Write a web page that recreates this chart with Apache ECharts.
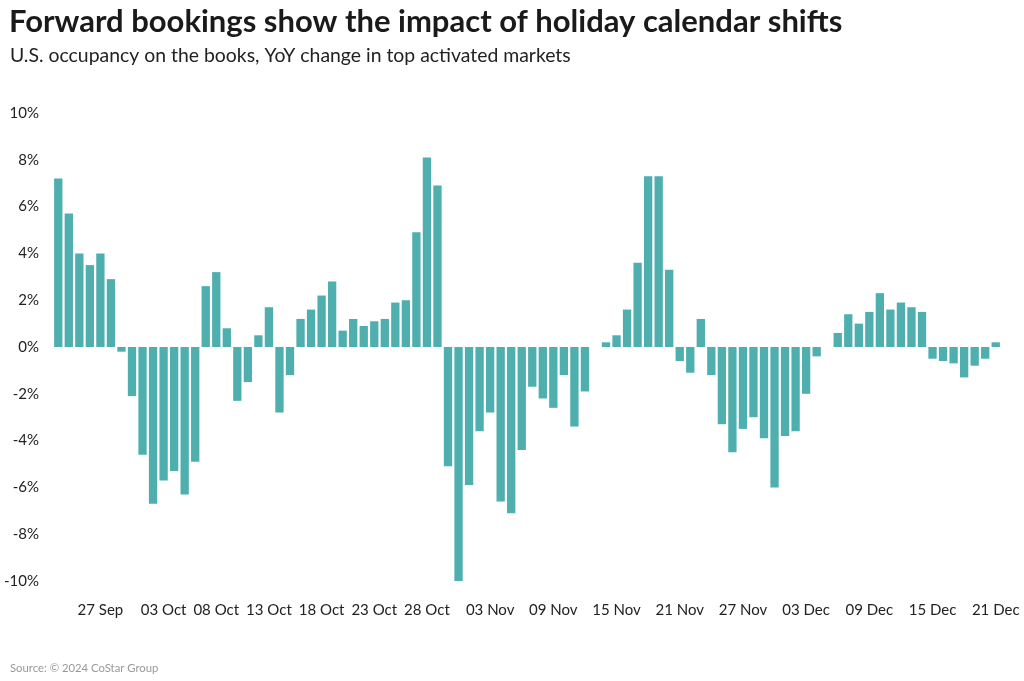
<!DOCTYPE html>
<html>
<head>
<meta charset="utf-8">
<script src="https://cdn.jsdelivr.net/npm/echarts@6/dist/echarts.min.js"></script>
<style>
html,body{margin:0;padding:0;background:#fff;}
#c{width:1024px;height:681px;}
</style>
</head>
<body>
<div id="c"></div>
<script>
const categories = [
 "23 Sep","24 Sep","25 Sep","26 Sep","27 Sep","28 Sep","29 Sep","30 Sep",
 "01 Oct","02 Oct","03 Oct","04 Oct","05 Oct","06 Oct","07 Oct","08 Oct","09 Oct","10 Oct",
 "11 Oct","12 Oct","13 Oct","14 Oct","15 Oct","16 Oct","17 Oct","18 Oct","19 Oct","20 Oct",
 "21 Oct","22 Oct","23 Oct","24 Oct","25 Oct","26 Oct","27 Oct","28 Oct","29 Oct","30 Oct","31 Oct",
 "01 Nov","02 Nov","03 Nov","04 Nov","05 Nov","06 Nov","07 Nov","08 Nov","09 Nov","10 Nov",
 "11 Nov","12 Nov","13 Nov","14 Nov","15 Nov","16 Nov","17 Nov","18 Nov","19 Nov","20 Nov",
 "21 Nov","22 Nov","23 Nov","24 Nov","25 Nov","26 Nov","27 Nov","28 Nov","29 Nov","30 Nov",
 "01 Dec","02 Dec","03 Dec","04 Dec","05 Dec","06 Dec","07 Dec","08 Dec","09 Dec","10 Dec",
 "11 Dec","12 Dec","13 Dec","14 Dec","15 Dec","16 Dec","17 Dec","18 Dec","19 Dec","20 Dec","21 Dec"
];
const yoyChange = [
 7.2,5.7,4.0,3.5,4.0,2.9,-0.2,-2.1,
 -4.6,-6.7,-5.7,-5.3,-6.3,-4.9,2.6,3.2,0.8,-2.3,
 -1.5,0.5,1.7,-2.8,-1.2,1.2,1.6,2.2,2.8,0.7,
 1.2,0.9,1.1,1.2,1.9,2.0,4.9,8.1,6.9,-5.1,-10.0,
 -5.9,-3.6,-2.8,-6.6,-7.1,-4.4,-1.7,-2.2,-2.6,-1.2,
 -3.4,-1.9,null,0.2,0.5,1.6,3.6,7.3,7.3,3.3,
 -0.6,-1.1,1.2,-1.2,-3.3,-4.5,-3.5,-3.0,-3.9,-6.0,
 -3.8,-3.6,-2.0,-0.4,null,0.6,1.4,1.0,1.5,2.3,
 1.6,1.9,1.7,1.5,-0.5,-0.6,-0.7,-1.3,-0.8,-0.5,0.2
];
const tickLabels = ["27 Sep","03 Oct","08 Oct","13 Oct","18 Oct","23 Oct","28 Oct",
 "03 Nov","09 Nov","15 Nov","21 Nov","27 Nov","03 Dec","09 Dec","15 Dec","21 Dec"];

const FONT = "Lato";
const chart = echarts.init(document.getElementById('c'), null, {renderer:'canvas'});
chart.setOption({
  animation:false,
  backgroundColor:'#fff',
  title:[
    {text:'Forward bookings show the impact of holiday calendar shifts', left:4, top:1,
     textStyle:{fontFamily:FONT, fontWeight:'bold', fontSize:31, color:'#1a1a1a'}},
    {text:'U.S. occupancy on the books, YoY change in top activated markets', left:5, top:41,
     textStyle:{fontFamily:FONT, fontWeight:'normal', fontSize:19.4, color:'#222'}},
    {text:'Source: © 2024 CoStar Group', left:5, top:658,
     textStyle:{fontFamily:FONT, fontWeight:'normal', fontSize:11.3, color:'#999'}}
  ],
  grid:{left:53, right:23, top:113, bottom:100},
  xAxis:{
    type:'category', data:categories, boundaryGap:true,
    axisLine:{show:false}, axisTick:{show:false},
    axisLabel:{
      interval:function(i, v){ return tickLabels.indexOf(v) >= 0; },
      margin:22, fontFamily:FONT, fontSize:15, color:'#222'
    }
  },
  yAxis:{
    type:'value', min:-10, max:10, interval:2,
    splitLine:{show:false}, axisLine:{show:false}, axisTick:{show:false},
    axisLabel:{formatter:'{value}%', margin:14, fontFamily:FONT, fontSize:15, color:'#222'}
  },
  series:[{
    type:'bar', data:yoyChange, barWidth:'79%',
    itemStyle:{color:'#4fafaf'}
  }]
});
</script>
</body>
</html>
